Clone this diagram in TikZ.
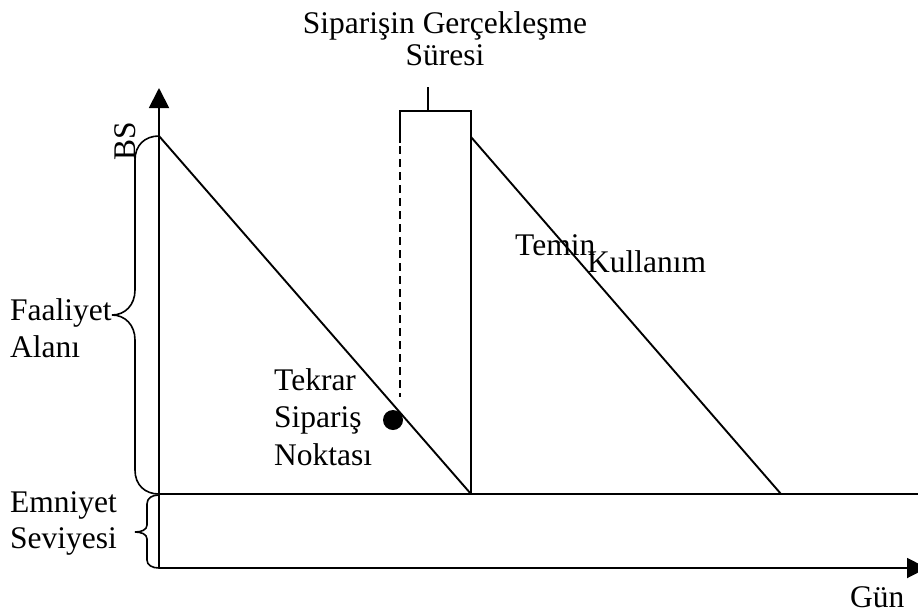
\documentclass[tikz,border=0pt]{standalone}
\usepackage{fontspec}
\setmainfont{Liberation Serif}
\usetikzlibrary{arrows.meta}
\begin{document}
\begin{tikzpicture}[x=1pt,y=-1pt,
  ln/.style={line width=1.9pt},
  dashln/.style={line width=1.9pt, dash pattern=on 8pt off 5pt},
  bracestyle/.style={line width=1.6pt},
  lbl/.style={inner sep=0pt, anchor=base west, font=\fontsize{31.5}{36}\selectfont},
  ctr/.style={inner sep=0pt, anchor=base, font=\fontsize{31.5}{36}\selectfont},
  axarrow/.style={line width=1.9pt, -{Triangle[length=20pt,width=20pt]}}]
\useasboundingbox (0,0) rectangle (918,614);
% coordinates
\coordinate (O) at (159,568);
\coordinate (Ytop) at (159,88);
\coordinate (Xend) at (927,568);
\coordinate (S0) at (159,494);
\coordinate (Send) at (918,494);
\coordinate (A1) at (159,136);
\coordinate (B1) at (471,494);
\coordinate (R1) at (400,143);
\coordinate (R2) at (400,111);
\coordinate (R3) at (471,111);
\coordinate (Tk1) at (428,111);
\coordinate (Tk2) at (428,87);
\coordinate (A2) at (471,137);
\coordinate (B2) at (781,494);
\coordinate (D1) at (400,146);
\coordinate (D2) at (400,397);
% axes
\draw[axarrow] (O) -- (Ytop);
\draw[axarrow] (O) -- (Xend);
\draw[ln] (S0) -- (Send);
% saw-tooth
\draw[ln] (A1) -- (B1);
\draw[ln] (R1) -- (R2) -- (R3) -- (B1);
\draw[ln] (Tk1) -- (Tk2);
\draw[ln] (A2) -- (B2);
\draw[dashln] (D1) -- (D2);
\fill (393,420) circle (10pt);
\node[coordinate] (dot) at (393,420) {};
% braces
\draw[bracestyle] (159,136) .. controls (145,136) and (135,145) .. (135,160)
  -- (135,290) .. controls (135,305) and (125,315) .. (112,315)
  .. controls (125,315) and (135,325) .. (135,340)
  -- (135,470) .. controls (135,485) and (145,494) .. (159,494);
\draw[bracestyle] (159,495) .. controls (152,495) and (147,498) .. (147,504)
  -- (147,525) .. controls (147,530) and (141,532) .. (135,532)
  .. controls (141,532) and (147,534) .. (147,539)
  -- (147,560) .. controls (147,565) and (152,568) .. (159,568);
% labels
\node[ctr] (t1) at (445,33) {Siparişin Gerçekleşme};
\node[ctr] (t2) at (445,65) {Süresi};
\node[ctr, rotate=90] (bs) at (135,141) {BS};
\node[lbl] (f1) at (10,320) {Faaliyet};
\node[lbl] (f2) at (10,357) {Alanı};
\node[lbl] (k1) at (274,390) {Tekrar};
\node[lbl] (k2) at (274,427) {Sipariş};
\node[lbl] (k3) at (274,465) {Noktası};
\node[lbl] (tm) at (515,255) {Temin};
\node[lbl] (ku) at (587,272) {Kullanım};
\node[lbl] (e1) at (10,512) {Emniyet};
\node[lbl] (e2) at (10,548) {Seviyesi};
\node[lbl] (gun) at (850,607) {Gün};
\end{tikzpicture}
\end{document}
